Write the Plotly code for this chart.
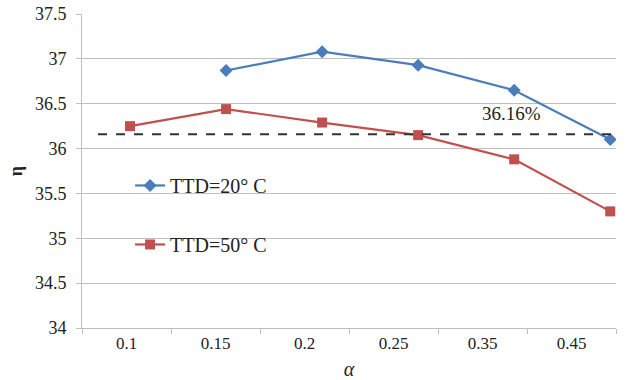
import plotly.graph_objects as go

categories = ["0.1", "0.15", "0.2", "0.25", "0.35", "0.45"]
ttd20_x = ["0.15", "0.2", "0.25", "0.35", "0.45"]
ttd20_y = [36.87, 37.08, 36.93, 36.65, 36.10]
ttd50_y = [36.25, 36.44, 36.29, 36.15, 35.88, 35.30]
ref_value = 36.16
ref_label = "36.16%"
y_ticks = [34, 34.5, 35, 35.5, 36, 36.5, 37, 37.5]

FONT = "Liberation Serif, Liberation Sans, sans-serif"
BLUE = "#4a7ebb"
RED = "#c0504d"
GRID = "#bfbfbf"

fig = go.Figure()
# invisible trace registering the tick categories on the labelled axis
fig.add_trace(go.Scatter(
    x=categories, y=[None] * len(categories), mode="markers",
    showlegend=False, hoverinfo="skip", xaxis="x", yaxis="y",
))
fig.add_trace(go.Scatter(
    x=ttd20_x, y=ttd20_y, mode="lines+markers", name="TTD=20° C",
    line=dict(color=BLUE, width=2.2),
    marker=dict(symbol="diamond", size=10, color=BLUE),
    legendgroup="a", xaxis="x2", yaxis="y",
))
fig.add_trace(go.Scatter(
    x=categories, y=ttd50_y, mode="lines+markers", name="TTD=50° C",
    line=dict(color=RED, width=2.2),
    marker=dict(symbol="square", size=10, color=RED),
    legendgroup="b", xaxis="x2", yaxis="y",
))

fig.add_shape(type="line", xref="paper", yref="y", x0=0.03, x1=1.0,
              y0=ref_value, y1=ref_value,
              line=dict(color="#333333", width=2, dash="dash"))
fig.add_annotation(x=0.805, y=ref_value, yshift=21, xref="paper", yref="y",
                   xanchor="center", yanchor="middle",
                   text=ref_label, showarrow=False,
                   font=dict(family=FONT, size=19, color="#222222"))

fig.update_layout(
    width=644, height=380,
    margin=dict(l=82, r=28, t=14, b=52),
    paper_bgcolor="white", plot_bgcolor="white",
    font=dict(family=FONT, size=17, color="#222222"),
    showlegend=True,
    legend=dict(x=0.09, y=0.36, xanchor="left", yanchor="middle",
                bgcolor="rgba(255,255,255,0)", tracegroupgap=30,
                font=dict(family=FONT, size=20, color="#222222")),
    xaxis=dict(
        type="category", categoryorder="array", categoryarray=categories,
        range=[-0.5, 5.5], automargin=False,
        showgrid=False, showline=True, linecolor=GRID, linewidth=1,
        ticks="outside", tickson="boundaries", ticklen=5, tickcolor=GRID,
        tickfont=dict(family=FONT, size=17, color="#222222"),
        title=dict(text="<i>α</i>", font=dict(family=FONT, size=20), standoff=10),
    ),
    xaxis2=dict(
        type="category", categoryorder="array", categoryarray=categories,
        range=[-0.5, 5.06], overlaying="x", visible=False,
    ),
    yaxis=dict(
        range=[34, 37.5], tickvals=y_ticks, automargin=False,
        ticktext=[f"{v:g}" for v in y_ticks],
        showgrid=True, gridcolor=GRID, gridwidth=1,
        showline=True, linecolor=GRID, linewidth=1,
        ticks="outside", ticklen=5, tickcolor=GRID,
        ticklabelstandoff=6,
        zeroline=False,
        tickfont=dict(family=FONT, size=18, color="#222222"),
        title=dict(text="<b>η</b>", font=dict(family=FONT, size=18), standoff=7),
    ),
)

fig.write_html("out.html")
